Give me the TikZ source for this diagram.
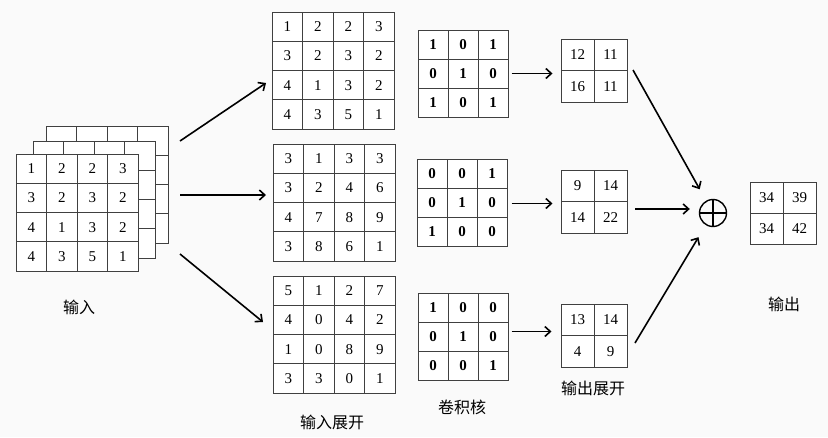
\documentclass[tikz,border=0pt]{standalone}
\usepackage{fontspec}
\setmainfont{Liberation Serif}
\newfontfamily\cjk{Noto Sans CJK SC}
\usetikzlibrary{arrows.meta,positioning}

\begin{document}
\begin{tikzpicture}
[x=1pt,y=-1pt,
 cell/.style={draw=black!75,line width=1pt,fill=white,inner sep=0pt,
   minimum width=30.5pt,minimum height=29.3pt,font=\fontsize{15}{15}\selectfont},
 kcell/.style={cell,minimum width=30pt,minimum height=29pt,
   font=\fontsize{15}{15}\selectfont\bfseries},
 ocell/.style={cell,minimum width=33pt,minimum height=31.5pt},
 arr/.style={-{Straight Barb[length=5.5pt,width=10pt]},line width=1.6pt},
 lbl/.style={font=\cjk\fontsize{16}{16}\selectfont}]

\fill[black!2] (0,0) rectangle (828,437);
\useasboundingbox (0,0) rectangle (828,437);

% input stack
\foreach \r in {1,...,4} \foreach \c in {1,...,4}
  \node[cell] (bk-\r-\c) at (46+\c*30.5-15.25, 126+\r*29.3-14.65) {};
\foreach \r in {1,...,4} \foreach \c in {1,...,4}
  \node[cell] (md-\r-\c) at (33+\c*30.5-15.25, 141+\r*29.3-14.65) {};
\foreach \row [count=\r] in {{1,2,2,3},{3,2,3,2},{4,1,3,2},{4,3,5,1}}
  \foreach \v [count=\c] in \row
    \node[cell] (in-\r-\c) at (16+\c*30.5-15.25, 154+\r*29.3-14.65) {\v};

% unfolded inputs
\foreach \row [count=\r] in {{1,2,2,3},{3,2,3,2},{4,1,3,2},{4,3,5,1}}
  \foreach \v [count=\c] in \row
    \node[cell] (u1-\r-\c) at (272+\c*30.5-15.25, 12+\r*29.3-14.65) {\v};
\foreach \row [count=\r] in {{3,1,3,3},{3,2,4,6},{4,7,8,9},{3,8,6,1}}
  \foreach \v [count=\c] in \row
    \node[cell] (u2-\r-\c) at (273+\c*30.5-15.25, 144+\r*29.3-14.65) {\v};
\foreach \row [count=\r] in {{5,1,2,7},{4,0,4,2},{1,0,8,9},{3,3,0,1}}
  \foreach \v [count=\c] in \row
    \node[cell] (u3-\r-\c) at (273+\c*30.5-15.25, 276+\r*29.3-14.65) {\v};

% kernels
\foreach \row [count=\r] in {{1,0,1},{0,1,0},{1,0,1}}
  \foreach \v [count=\c] in \row
    \node[kcell] (k1-\r-\c) at (418+\c*30-15, 30+\r*29-14.5) {\v};
\foreach \row [count=\r] in {{0,0,1},{0,1,0},{1,0,0}}
  \foreach \v [count=\c] in \row
    \node[kcell] (k2-\r-\c) at (417+\c*30-15, 159+\r*29-14.5) {\v};
\foreach \row [count=\r] in {{1,0,0},{0,1,0},{0,0,1}}
  \foreach \v [count=\c] in \row
    \node[kcell] (k3-\r-\c) at (418+\c*30-15, 293+\r*29-14.5) {\v};

% unfolded outputs
\foreach \row [count=\r] in {{12,11},{16,11}}
  \foreach \v [count=\c] in \row
    \node[ocell] (o1-\r-\c) at (561+\c*33-16.5, 39+\r*31.5-15.75) {\v};
\foreach \row [count=\r] in {{9,14},{14,22}}
  \foreach \v [count=\c] in \row
    \node[ocell] (o2-\r-\c) at (561+\c*33-16.5, 170+\r*31.5-15.75) {\v};
\foreach \row [count=\r] in {{13,14},{4,9}}
  \foreach \v [count=\c] in \row
    \node[ocell] (o3-\r-\c) at (561+\c*33-16.5, 304+\r*31.5-15.75) {\v};

% result
\foreach \row [count=\r] in {{34,39},{34,42}}
  \foreach \v [count=\c] in \row
    \node[ocell,minimum height=31pt] (res-\r-\c) at (750+\c*33-16.5, 182+\r*31-15.5) {\v};

\node[circle,draw,line width=1.4pt,minimum size=27pt,inner sep=0pt] (plus) at (713,213) {};
\draw[line width=1.4pt] (plus.north) -- (plus.south);
\draw[line width=1.4pt] (plus.west) -- (plus.east);

\node[lbl] (l-in) at (79,307) {输入};
\node[lbl] (l-unf) at (332,422) {输入展开};
\node[lbl] (l-ker) at (462,407) {卷积核};
\node[lbl] (l-ounf) at (593,388) {输出展开};
\node[lbl] (l-out) at (784,304) {输出};

\coordinate (s1) at (180,141);
\coordinate (s2) at (180,195);
\coordinate (s3) at (180,254);
\coordinate (e1) at (266,83);
\coordinate (e2) at (266,195);
\coordinate (e3) at (263,322);
\coordinate (t1) at (633,70);
\coordinate (t2) at (635,209);
\coordinate (t3) at (635,343);

\draw[arr] (s1) -- (e1);
\draw[arr] (s2) -- (e2);
\draw[arr] (s3) -- (e3);

\draw[arr,shorten <=3pt,shorten >=8pt] (k1-2-3.east) -- (k1-2-3.east -| o1-1-1.west);
\draw[arr,shorten <=4pt,shorten >=8pt] ([yshift=-1pt]k2-2-3.east) -- ([yshift=-1pt]k2-2-3.east -| o2-1-1.west);
\draw[arr,shorten <=3pt,shorten >=9pt] ([yshift=5pt]k3-2-3.east) -- ([yshift=5pt]k3-2-3.east -| o3-1-1.west);

\draw[arr,shorten >=13pt] (t1) -- (plus);
\draw[arr,shorten >=9pt] (t2) -- ([yshift=4pt]plus.west);
\draw[arr,shorten >=14pt] (t3) -- (plus);
\end{tikzpicture}
\end{document}
